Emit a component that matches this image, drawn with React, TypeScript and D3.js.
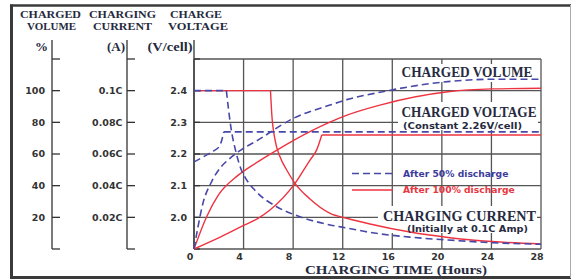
import React from 'react';
import * as d3 from 'd3';

// ---- data ----
const hourTicks = [0, 4, 8, 12, 16, 20, 24, 28];
const gridPct = [0, 20, 40, 60, 80, 100, 120];
const volumeTicks = [20, 40, 60, 80, 100];
const currentTicks = [0.02, 0.04, 0.06, 0.08, 0.1];
const currentTickLabels = ['0.02C', '0.04C', '0.06C', '0.08C', '0.1C'];
const voltageTicks = [2.0, 2.1, 2.2, 2.3, 2.4];
const voltageTickLabels = ['2.0', '2.1', '2.2', '2.3', '2.4'];

// After 50% discharge (blue dashed)
const volume50: [number, number][] = [
  [0, 0], [0.32, 13.9], [0.73, 29.1], [1.37, 41.7], [2.18, 51.8], [2.74, 56.2],
  [3.55, 61.3], [5.16, 68.8], [8.01, 82.5], [10.97, 90.9], [12.4, 94.5],
  [15.0, 99.0], [20.47, 105.7], [24.05, 107.2], [28, 107.2],
];
const voltage50Rise: [number, number][] = [
  [0, 2.175], [1.07, 2.198], [1.6, 2.21], [2.07, 2.226], [2.25, 2.245], [2.4, 2.27],
];
const voltage50Hold: [number, number][] = [[2.4, 2.27], [28, 2.27]];
const current50Hold: [number, number][] = [[0, 0.1], [2.61, 0.1]];
const current50Fall: [number, number][] = [
  [2.61, 0.1], [3.01, 0.0752], [3.41, 0.0605], [3.82, 0.0499], [4.09, 0.0457],
  [5.03, 0.0362], [6.67, 0.0267], [8.15, 0.0215], [10.98, 0.0152], [12.32, 0.0133],
  [14.2, 0.0105], [17.43, 0.0075], [20.5, 0.0057], [24.05, 0.004], [28, 0.003],
];

// After 100% discharge (red solid)
const volume100: [number, number][] = [
  [0, 0], [1.02, 20.4], [1.96, 34], [3.55, 46.5], [5.24, 55.5], [6.7, 62.5],
  [8.07, 68.8], [10.97, 80.2], [12.35, 84.6], [15.0, 90.9], [20.5, 99.3],
  [24.05, 101.1], [28, 101.5],
];
const voltage100Rise: [number, number][] = [
  [0, 1.9], [2.2, 1.939], [4.09, 1.976], [5.17, 1.997], [6.13, 2.023],
  [8.15, 2.107], [9.36, 2.181], [9.9, 2.213], [10.31, 2.26],
];
const voltage100Hold: [number, number][] = [[10.31, 2.26], [28, 2.26]];
const current100Hold: [number, number][] = [[0, 0.1], [6.17, 0.1]];
const current100Fall: [number, number][] = [
  [6.17, 0.1], [6.27, 0.0858], [6.54, 0.0689], [6.94, 0.0583], [7.48, 0.0499],
  [8.15, 0.0415], [9.36, 0.0316], [10.98, 0.0225], [12.32, 0.0194], [14.2, 0.0158],
  [17.43, 0.0107], [20.5, 0.0073], [24.05, 0.0047], [28, 0.0032],
];

// ---- layout ----
const W = 573;
const H = 280;
const PL = 194, PR = 541, PT = 59, PB = 249;

const x = d3.scaleLinear().domain([0, 28]).range([PL, PR]);
const yPct = d3.scaleLinear().domain([0, 120]).range([PB, PT]);
const yCur = d3.scaleLinear().domain([0, 0.12]).range([PB, PT]);
const yVolt = d3.scaleLinear().domain([1.9, 2.5]).range([PB, PT]);

const mk = (ys: d3.ScaleLinear<number, number>, curve: d3.CurveFactory) =>
  d3.line<[number, number]>().x((d) => x(d[0])).y((d) => ys(d[1])).curve(curve);

const RED = '#ee3340';
const BLUE = '#4848a8';
const DASH = '7,4';
const SERIF = "'Liberation Serif', 'Times New Roman', serif";
const SANS = "'DejaVu Sans', sans-serif";
const TXT = '#262a40';
const NUM = '#333';

export default function App() {
  const axesX = [52, 127, PL];
  const redLines = [
    mk(yPct, d3.curveMonotoneX)(volume100),
    mk(yVolt, d3.curveMonotoneX)(voltage100Rise),
    mk(yVolt, d3.curveLinear)(voltage100Hold),
    mk(yCur, d3.curveLinear)(current100Hold),
    mk(yCur, d3.curveMonotoneX)(current100Fall),
  ];
  const blueLines = [
    mk(yPct, d3.curveMonotoneX)(volume50),
    mk(yVolt, d3.curveMonotoneX)(voltage50Rise),
    mk(yVolt, d3.curveLinear)(voltage50Hold),
    mk(yCur, d3.curveLinear)(current50Hold),
    mk(yCur, d3.curveMonotoneX)(current50Fall),
  ];
  return (
    <svg
      width={W}
      height={H}
      style={{ position: 'absolute', left: 0, top: 0, background: '#fff' }}
    >
      {/* frame */}
      <line x1={10} y1={5.5} x2={571} y2={5.5} stroke="#3a3a3a" strokeWidth={2.5} />
      <line x1={11.5} y1={4.5} x2={11.5} y2={279} stroke="#3a3a3a" strokeWidth={3} />
      <line x1={10} y1={277.5} x2={571} y2={277.5} stroke="#3a3a3a" strokeWidth={3} />
      <line x1={570.5} y1={5} x2={570.5} y2={278} stroke="#aaa" strokeWidth={1} />

      {/* headers */}
      <g fontFamily={SERIF} fontWeight="bold" fontSize={11} fill={TXT} textAnchor="middle">
        <text x={50.5} y={17.5} textLength={61} lengthAdjust="spacingAndGlyphs">CHARGED</text>
        <text x={51.5} y={29.5} textLength={49} lengthAdjust="spacingAndGlyphs">VOLUME</text>
        <text x={122.5} y={17.5} textLength={67} lengthAdjust="spacingAndGlyphs">CHARGING</text>
        <text x={122.5} y={29.5} textLength={59} lengthAdjust="spacingAndGlyphs">CURRENT</text>
        <text x={196} y={17.5} textLength={52} lengthAdjust="spacingAndGlyphs">CHARGE</text>
        <text x={198} y={29.5} textLength={60} lengthAdjust="spacingAndGlyphs">VOLTAGE</text>
      </g>
      <g fontFamily={SERIF} fontWeight="bold" fontSize={13} fill={TXT} textAnchor="end">
        <text x={48} y={51}>%</text>
        <text x={125} y={51}>(A)</text>
        <text x={192.5} y={51} textLength={45} lengthAdjust="spacingAndGlyphs">(V/cell)</text>
      </g>

      {/* grid */}
      <g stroke="#555" strokeWidth={1.3}>
        {hourTicks.map((h) => (
          <line key={'v' + h} x1={x(h)} x2={x(h)} y1={PT} y2={PB} />
        ))}
        {gridPct.map((p) => (
          <line key={'h' + p} x1={PL} x2={PR} y1={yPct(p)} y2={yPct(p)} />
        ))}
      </g>

      {/* left axes */}
      <g stroke="#333" strokeWidth={1.3}>
        {axesX.map((ax) => (
          <g key={'ax' + ax}>
            <line x1={ax} x2={ax} y1={40} y2={PB} />
            {gridPct.map((p) => (
              <line key={p} x1={ax} x2={ax + (ax === PL ? 6 : 8)} y1={yPct(p)} y2={yPct(p)} />
            ))}
          </g>
        ))}
      </g>
      <g fontFamily={SANS} fontWeight="bold" fontSize={9.5} fill={NUM} textAnchor="end">
        {volumeTicks.map((v) => (
          <text key={'vt' + v} x={45} y={yPct(v)} dy="0.36em">{v}</text>
        ))}
        {currentTicks.map((c, i) => (
          <text key={'ct' + c} x={122.5} y={yCur(c)} dy="0.36em">{currentTickLabels[i]}</text>
        ))}
        {voltageTicks.map((v, i) => (
          <text key={'volt' + v} x={187} y={yVolt(v)} dy="0.36em">{voltageTickLabels[i]}</text>
        ))}
      </g>

      {/* x tick labels */}
      <g fontFamily={SANS} fontWeight="bold" fontSize={9.5} fill={NUM} textAnchor="middle">
        {hourTicks.map((h) => (
          <text key={'xt' + h} x={x(h) - 4} y={259.5}>{h}</text>
        ))}
      </g>
      <text
        x={396}
        y={274}
        fontFamily={SERIF}
        fontWeight="bold"
        fontSize={13.5}
        fill={TXT}
        textAnchor="middle"
        textLength={182}
        lengthAdjust="spacingAndGlyphs"
      >
        CHARGING TIME (Hours)
      </text>

      {/* label knockouts */}
      <rect x={398} y={64} width={139} height={18} fill="#fff" />
      <rect x={398} y={102} width={140} height={28} fill="#fff" />
      <rect x={378} y={206} width={159} height={27} fill="#fff" />

      {/* curves */}
      <g fill="none" stroke={RED} strokeWidth={1.4}>
        {redLines.map((d, i) => (
          <path key={'r' + i} d={d || ''} />
        ))}
      </g>
      <g fill="none" stroke={BLUE} strokeWidth={1.6} strokeDasharray={DASH}>
        {blueLines.map((d, i) => (
          <path key={'b' + i} d={d || ''} />
        ))}
      </g>

      {/* annotations */}
      <g fontFamily={SERIF} fontWeight="bold" fontSize={14} fill={TXT}>
        <text x={401.5} y={77} textLength={131} lengthAdjust="spacingAndGlyphs">CHARGED VOLUME</text>
        <text x={401.5} y={117} textLength={135} lengthAdjust="spacingAndGlyphs">CHARGED VOLTAGE</text>
        <text x={383} y={220.5} textLength={153} lengthAdjust="spacingAndGlyphs">CHARGING CURRENT</text>
      </g>
      <g fontFamily={SANS} fontWeight="bold" fontSize={8} fill={TXT}>
        <text x={403} y={128.5} textLength={119} lengthAdjust="spacingAndGlyphs">(Constant 2.26V/cell)</text>
        <text x={407} y={232} textLength={121} lengthAdjust="spacingAndGlyphs">(Initially at 0.1C Amp)</text>
      </g>

      {/* legend */}
      <line x1={352} x2={393} y1={173.5} y2={173.5} stroke={BLUE} strokeWidth={1.6} strokeDasharray={DASH} />
      <line x1={352} x2={393} y1={190} y2={190} stroke={RED} strokeWidth={1.4} />
      <g fontFamily={SANS} fontWeight="bold" fontSize={9.2}>
        <text x={403} y={173.5} dy="0.36em" fill="#3c3c9c">After 50% discharge</text>
        <text x={403} y={190} dy="0.36em" fill="#e8383f">After 100% discharge</text>
      </g>
    </svg>
  );
}
